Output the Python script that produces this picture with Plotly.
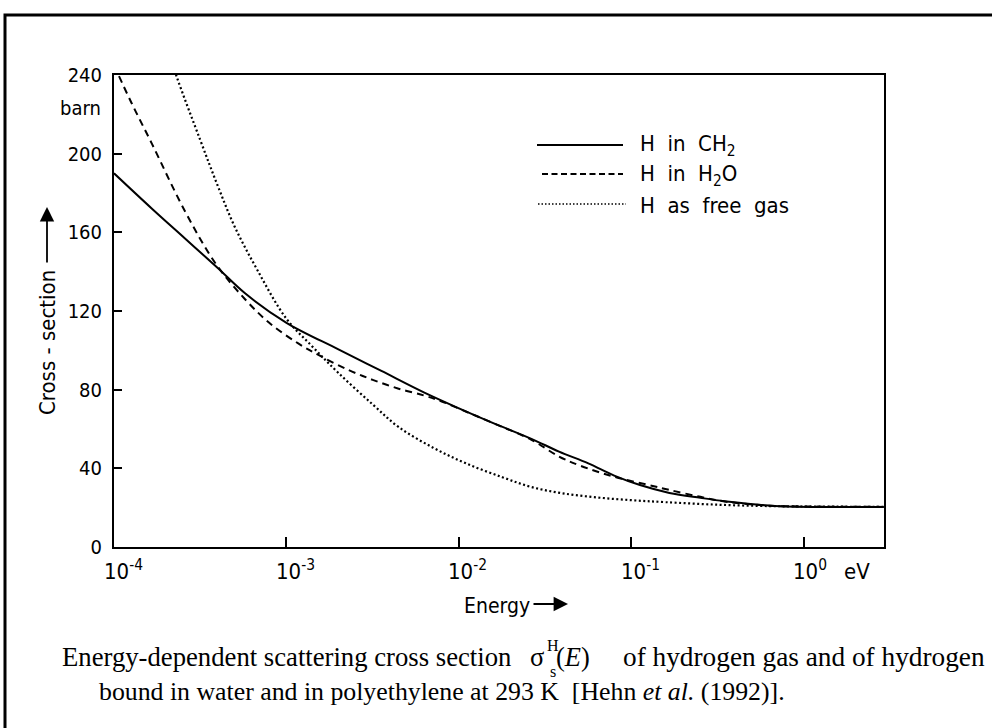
import math
import plotly.graph_objects as go

# Energy grid (eV) and cross sections (barn) for each hydrogen environment
energy_ch2 = [1.0e-4, 1.66e-4, 2.57e-4, 3.98e-4, 5.75e-4, 1.0e-3, 2.0e-3, 3.55e-3, 6.3e-3,
              1.0e-2, 1.58e-2, 2.63e-2, 3.8e-2, 5.62e-2, 7.94e-2, 0.112, 0.166, 0.251,
              0.347, 0.676, 2.9]
sigma_ch2 = [190, 172, 157, 142, 129, 114, 100.5, 89.5, 78.5, 70.5, 63, 55, 48.5, 42.5, 36.3,
             31.5, 27.5, 25, 23.3, 20.9, 20.4]

energy_h2o = [1.0e-4, 1.26e-4, 1.66e-4, 2.57e-4, 3.89e-4, 5.75e-4, 7.94e-4, 1.17e-3, 1.58e-3,
              2.29e-3, 3.16e-3, 4.47e-3, 6.3e-3, 7.94e-3, 1.12e-2, 1.58e-2, 2.63e-2, 3.8e-2,
              5.0e-2, 7.94e-2, 0.126, 0.166, 0.251, 0.355, 0.631, 1.0, 2.9]
sigma_h2o = [245, 226, 205, 171, 144, 126, 114, 103.5, 97, 90, 85, 80.5, 77, 74, 68.5, 63,
             54.5, 46, 41.5, 35.7, 31.5, 29, 25.5, 23, 21, 20.6, 20.4]

energy_gas = [1.9e-4, 2.29e-4, 3.16e-4, 3.98e-4, 5.0e-4, 6.76e-4, 1.0e-3, 1.41e-3, 2.0e-3,
              3.16e-3, 4.47e-3, 7.08e-3, 1.1e-2, 1.78e-2, 2.63e-2, 3.98e-2, 6.3e-2, 0.1,
              0.158, 0.316, 0.631, 1.0, 2.9]
sigma_gas = [262, 240, 207, 184, 163, 141, 116, 102, 88.5, 72.5, 61, 50.5, 42.5, 35.5, 30.5,
             27.3, 25.2, 23.8, 22.8, 21.5, 20.8, 20.6, 20.4]

x_tick_values = [1e-4, 1e-3, 1e-2, 1e-1, 1e0]
x_tick_exponents = ["-4", "-3", "-2", "-1", "0"]
y_tick_values = [0, 40, 80, 120, 160, 200, 240]

NB = "\u00a0"
legend_labels = [f"H{NB}{NB}in{NB}{NB}CH<sub>2</sub>",
                 f"H{NB}{NB}in{NB}{NB}H<sub>2</sub>O",
                 f"H{NB}{NB}as{NB}{NB}free{NB}{NB}gas"]

SANS = "DejaVu Sans Condensed, Liberation Sans Narrow, DejaVu Sans"
SERIF = "Liberation Serif, DejaVu Serif, serif"

# plot area in pixels
L, R, T, B = 114, 884, 75, 547
W, H = 992, 728
PW, PH = R - L, B - T


def px(xp):
    return (xp - L) / PW


def py(yp):
    return (B - yp) / PH


def label(x, y, text, size, family=SANS, xanchor="center", **kw):
    return dict(x=px(x), y=py(y), xref="paper", yref="paper", text=text, showarrow=False,
                xanchor=xanchor, yanchor="middle",
                font=dict(family=family, size=size, color="black"), **kw)


fig = go.Figure()
fig.add_trace(go.Scatter(x=energy_ch2, y=sigma_ch2, mode="lines", line_shape="spline",
                         line=dict(color="black", width=2), name="H in CH2"))
fig.add_trace(go.Scatter(x=energy_h2o, y=sigma_h2o, mode="lines", line_shape="spline",
                         line=dict(color="black", width=2, dash="7px,5px"), name="H in H2O"))
fig.add_trace(go.Scatter(x=energy_gas, y=sigma_gas, mode="lines", line_shape="spline",
                         line=dict(color="black", width=2.2, dash="2px,2.5px"),
                         name="H as free gas"))

fig.update_xaxes(type="log", range=[-4.0, 0.464], showline=True, linewidth=2,
                 linecolor="black", mirror=True, ticks="inside", ticklen=10, tickwidth=1.5,
                 tickcolor="black", tickvals=x_tick_values, ticktext=[""] * 5,
                 showgrid=False, zeroline=False)
fig.update_yaxes(range=[0, 240], showline=True, linewidth=2, linecolor="black", mirror=True,
                 ticks="inside", ticklen=8, tickwidth=1.5, tickcolor="black",
                 tickvals=y_tick_values, ticklabelstandoff=6,
                 tickfont=dict(family=SANS, size=20, color="black"),
                 showgrid=False, zeroline=False)

ann = []
# decade labels with the mantissa centred on its tick
for v, e in zip(x_tick_values, x_tick_exponents):
    ann.append(dict(x=math.log10(v), xref="x", y=py(570), yref="paper", xanchor="left",
                    yanchor="middle", xshift=-12.5, text=f"10<sup>{e}</sup>", showarrow=False,
                    font=dict(family=SANS, size=22, color="black")))
ann.append(label(857, 571, "eV", 22))
ann.append(label(103, 108, "barn", 20, xanchor="right"))

# axis titles with arrows
ann.append(label(497, 606, "Energy", 21))
ann.append(dict(x=px(568), y=py(604), ax=-36, ay=0, xref="paper", yref="paper",
                text="", showarrow=True, arrowhead=2,
                arrowsize=1.6, arrowwidth=1.8, arrowcolor="black"))
ann.append(label(47, 343, "Cross - section", 22, textangle=-90))
ann.append(dict(x=px(47), y=py(207), ax=0, ay=57, xref="paper", yref="paper",
                text="", showarrow=True, arrowhead=2,
                arrowsize=1.6, arrowwidth=1.8, arrowcolor="black"))

# legend texts
for i, lab in enumerate(legend_labels):
    ann.append(label(638, 145 + 30 * i, lab, 22, xanchor="left"))

# caption
ann.append(label(60, 657, "Energy-dependent scattering cross section", 26.7, SERIF,
                 xanchor="left"))
ann.append(label(528, 657, "σ", 26.5, SERIF, xanchor="left"))
ann.append(label(545, 645, "H", 16, SERIF, xanchor="left"))
ann.append(label(548, 671, "s", 16, SERIF, xanchor="left"))
ann.append(label(554, 657, "(<i>E</i>)", 26.5, SERIF, xanchor="left"))
ann.append(label(987, 657, "of hydrogen gas and of hydrogen", 27.3, SERIF, xanchor="right"))
ann.append(label(97, 691,
                 "bound in water and in polyethylene at 293 K  [Hehn <i>et al.</i> (1992)].",
                 25.8, SERIF, xanchor="left"))

shapes = [
    # outer frame
    dict(type="rect", xref="paper", yref="paper", x0=px(5), x1=px(1200), y0=py(900),
         y1=py(15), line=dict(color="black", width=3)),
    # legend line samples
    dict(type="line", xref="paper", yref="paper", x0=px(537), x1=px(623), y0=py(145),
         y1=py(145), line=dict(color="black", width=2)),
    dict(type="line", xref="paper", yref="paper", x0=px(542), x1=px(623), y0=py(174),
         y1=py(174), line=dict(color="black", width=1.8, dash="6px,3.5px")),
    dict(type="line", xref="paper", yref="paper", x0=px(538), x1=px(626), y0=py(204),
         y1=py(204), line=dict(color="black", width=1.5, dash="1.5px,2px")),
]

fig.update_layout(width=W, height=H, autosize=False,
                  margin=dict(l=L, r=W - R, t=T, b=H - B, pad=0),
                  paper_bgcolor="white", plot_bgcolor="white", showlegend=False,
                  annotations=ann, shapes=shapes)

fig.write_html("out.html")
